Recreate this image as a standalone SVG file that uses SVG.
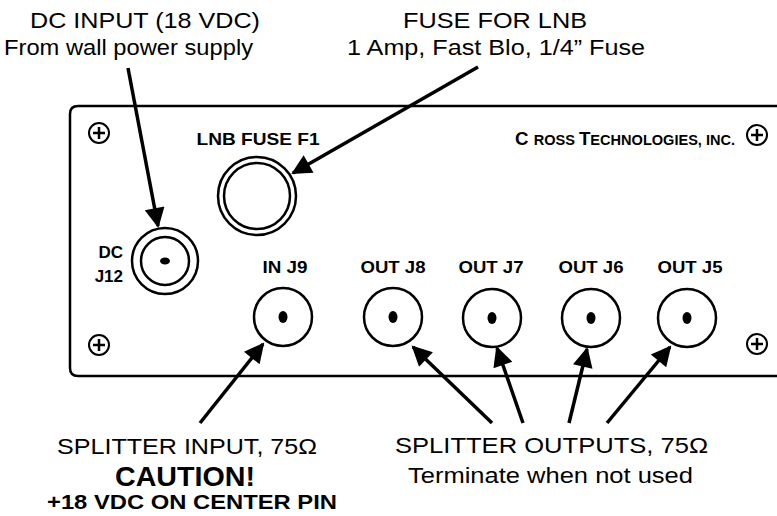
<svg xmlns="http://www.w3.org/2000/svg" width="777" height="516" viewBox="0 0 777 516">
<style>
text{font-family:"Liberation Sans",Arial,sans-serif;fill:#000}
.t{font-size:22.5px}
.b{font-size:17px;font-weight:bold}
.bb{font-size:27px;font-weight:bold}
.stk{fill:none;stroke:#000;stroke-width:2.5}
.dot{fill:#000}
.ar{stroke:#000;stroke-width:3.5;fill:none;marker-end:url(#ah)}
</style>
<defs>
<marker id="ah" viewBox="0 0 10 10" refX="9" refY="5" markerUnits="userSpaceOnUse" markerWidth="24" markerHeight="20" orient="auto">
<path d="M0,0 L10,5 L0,10 z" fill="#000"/>
</marker>
<g id="screw">
<circle cx="0" cy="0" r="10" fill="#fff" stroke="#000" stroke-width="2"/>
<path d="M-6,0 H6 M0,-6 V6" stroke="#000" stroke-width="2.5"/>
</g>
</defs>
<g id="panel">
<path d="M777,106 H78 Q70,106 70,114 V368 Q70,376 78,376 H777" class="stk"/>
</g>
<g id="screws">
<use href="#screw" x="99" y="133"/>
<use href="#screw" x="99" y="345"/>
<use href="#screw" x="757" y="135"/>
<use href="#screw" x="757" y="344"/>
</g>
<g id="brand">
<text x="515" y="145" style="font-weight:bold" textLength="220" lengthAdjust="spacingAndGlyphs"><tspan style="font-size:18px">C </tspan><tspan style="font-size:14px">ROSS </tspan><tspan style="font-size:18px">T</tspan><tspan style="font-size:14px">ECHNOLOGIES, INC.</tspan></text>
</g>
<g id="fuse">
<circle cx="257" cy="196" r="39" class="stk"/>
<circle cx="257" cy="196" r="33" class="stk"/>
<text x="258" y="145" class="b" text-anchor="middle" textLength="123" lengthAdjust="spacingAndGlyphs">LNB FUSE F1</text>
</g>
<g id="dc">
<circle cx="165" cy="261" r="33" class="stk" stroke-width="2"/>
<circle cx="165" cy="261" r="24" class="stk"/>
<ellipse cx="165" cy="261" rx="5" ry="3.5" class="dot"/>
<text x="123" y="258" class="b" text-anchor="end">DC</text>
<text x="123" y="282" class="b" text-anchor="end">J12</text>
</g>
<g id="j9">
<circle cx="283" cy="317" r="29" class="stk"/>
<ellipse cx="283" cy="317" rx="4.5" ry="6" class="dot"/>
<text x="285" y="273" class="b" text-anchor="middle" textLength="45" lengthAdjust="spacingAndGlyphs">IN J9</text>
</g>
<g id="j8">
<circle cx="393" cy="317" r="29" class="stk"/>
<ellipse cx="393" cy="317" rx="4.5" ry="6" class="dot"/>
<text x="393" y="273" class="b" text-anchor="middle" textLength="65" lengthAdjust="spacingAndGlyphs">OUT J8</text>
</g>
<g id="j7">
<circle cx="492" cy="318" r="29" class="stk"/>
<ellipse cx="492" cy="318" rx="4.5" ry="6" class="dot"/>
<text x="491" y="273" class="b" text-anchor="middle" textLength="65" lengthAdjust="spacingAndGlyphs">OUT J7</text>
</g>
<g id="j6">
<circle cx="591" cy="318" r="29" class="stk"/>
<ellipse cx="591" cy="318" rx="4.5" ry="6" class="dot"/>
<text x="591" y="273" class="b" text-anchor="middle" textLength="65" lengthAdjust="spacingAndGlyphs">OUT J6</text>
</g>
<g id="j5">
<circle cx="687" cy="318" r="29" class="stk"/>
<ellipse cx="687" cy="318" rx="4.5" ry="6" class="dot"/>
<text x="690" y="273" class="b" text-anchor="middle" textLength="65" lengthAdjust="spacingAndGlyphs">OUT J5</text>
</g>
<g id="labels">
<text x="30" y="28" class="t" textLength="230" lengthAdjust="spacingAndGlyphs">DC INPUT (18 VDC)</text>
<text x="4" y="55" class="t" textLength="249" lengthAdjust="spacingAndGlyphs">From wall power supply</text>
<text x="403" y="28" class="t" textLength="184" lengthAdjust="spacingAndGlyphs">FUSE FOR LNB</text>
<text x="347" y="55" class="t" textLength="298" lengthAdjust="spacingAndGlyphs">1 Amp, Fast Blo, 1/4” Fuse</text>
<text x="57" y="454" class="t" textLength="260" lengthAdjust="spacingAndGlyphs">SPLITTER INPUT, 75Ω</text>
<text x="115" y="486" class="bb" textLength="140" lengthAdjust="spacingAndGlyphs">CAUTION!</text>
<text x="47" y="509" class="b" style="font-size:20px" textLength="290" lengthAdjust="spacingAndGlyphs">+18 VDC ON CENTER PIN</text>
<text x="395" y="453" class="t" textLength="313" lengthAdjust="spacingAndGlyphs">SPLITTER OUTPUTS, 75Ω</text>
<text x="408" y="483" class="t" textLength="285" lengthAdjust="spacingAndGlyphs">Terminate when not used</text>
</g>
<g id="connectors">
<line x1="128" y1="68" x2="158" y2="226" class="ar"/>
<line x1="478" y1="67" x2="293" y2="173" class="ar"/>
<line x1="200" y1="423" x2="263" y2="344" class="ar"/>
<line x1="492" y1="423" x2="413" y2="347" class="ar"/>
<line x1="523" y1="423" x2="497" y2="348" class="ar"/>
<line x1="569" y1="423" x2="587" y2="349" class="ar"/>
<line x1="607" y1="423" x2="670" y2="347" class="ar"/>
</g>
</svg>
